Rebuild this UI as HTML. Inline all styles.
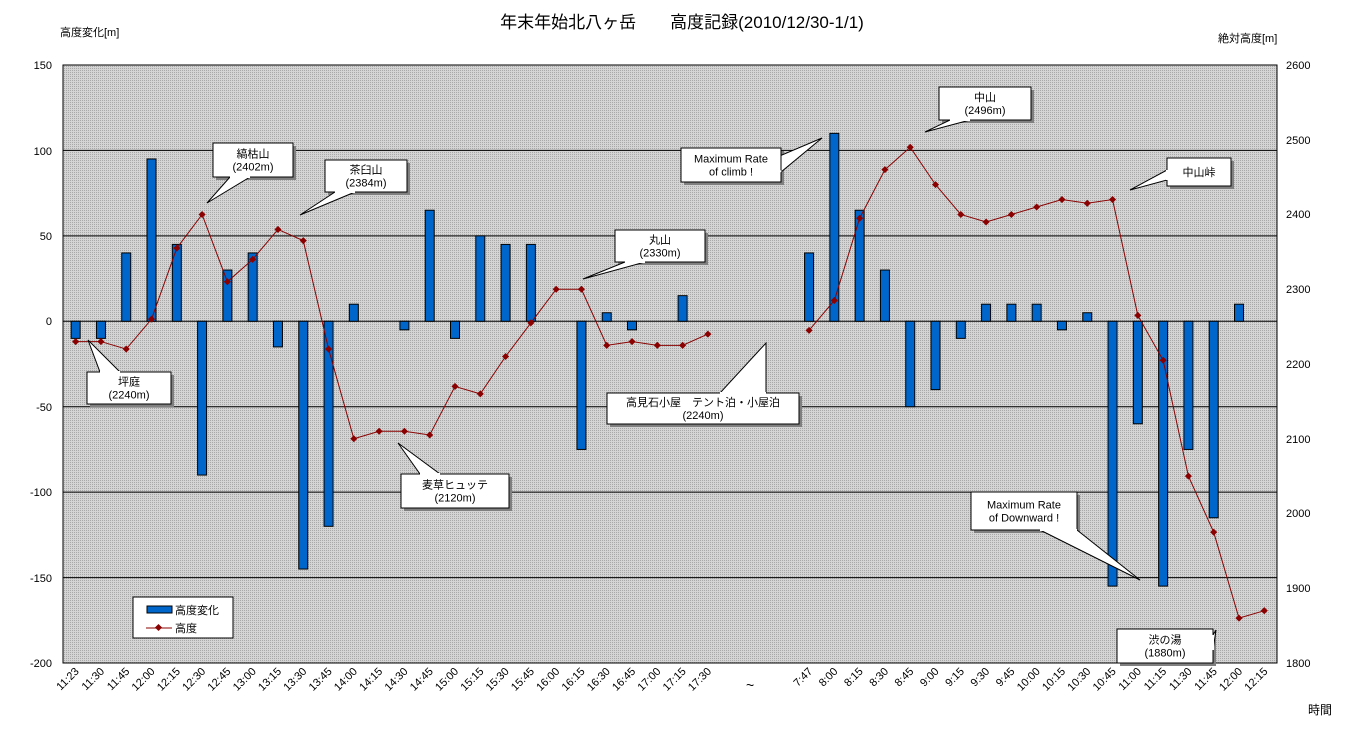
<!DOCTYPE html>
<html><head><meta charset="utf-8"><style>
body{margin:0;background:#fff;}
svg text{font-family:"Liberation Sans","Noto Sans CJK JP",sans-serif;fill:#000;}
</style></head><body>
<svg id="s" width="1364" height="734" xmlns="http://www.w3.org/2000/svg">
<defs>
<pattern id="dots" width="2" height="2" patternUnits="userSpaceOnUse">
<rect width="2" height="2" fill="#d4d4d4"/><rect width="1" height="1" fill="#a8a8a8"/>
</pattern>
</defs>
<rect x="63" y="65" width="1214" height="598" fill="url(#dots)" stroke="#000" stroke-width="1"/>
<g id="grid"></g>
<g id="bars"></g>
<g id="line"></g>
<text x="682" y="28" font-size="17" text-anchor="middle">年末年始北八ヶ岳　　高度記録(2010/12/30-1/1)</text>
<text x="60" y="36" font-size="11">高度変化[m]</text>
<text x="1218" y="42" font-size="11">絶対高度[m]</text>
<text x="1308" y="714" font-size="12">時間</text>
<g font-size="11" text-anchor="end">
<text x="52" y="69">150</text><text x="52" y="155">100</text><text x="52" y="240">50</text><text x="52" y="325">0</text>
<text x="52" y="411">-50</text><text x="52" y="496">-100</text><text x="52" y="582">-150</text><text x="52" y="667">-200</text>
</g>
<g font-size="11">
<text x="1286" y="69">2600</text><text x="1286" y="144">2500</text><text x="1286" y="218">2400</text><text x="1286" y="293">2300</text>
<text x="1286" y="368">2200</text><text x="1286" y="443">2100</text><text x="1286" y="517">2000</text><text x="1286" y="592">1900</text><text x="1286" y="667">1800</text>
</g>
<g id="xl" font-size="11" text-anchor="end">
<text x="0" y="0" data-i="0">11:23</text><text data-i="1">11:30</text><text data-i="2">11:45</text><text data-i="3">12:00</text><text data-i="4">12:15</text><text data-i="5">12:30</text><text data-i="6">12:45</text><text data-i="7">13:00</text><text data-i="8">13:15</text><text data-i="9">13:30</text><text data-i="10">13:45</text><text data-i="11">14:00</text><text data-i="12">14:15</text><text data-i="13">14:30</text><text data-i="14">14:45</text><text data-i="15">15:00</text><text data-i="16">15:15</text><text data-i="17">15:30</text><text data-i="18">15:45</text><text data-i="19">16:00</text><text data-i="20">16:15</text><text data-i="21">16:30</text><text data-i="22">16:45</text><text data-i="23">17:00</text><text data-i="24">17:15</text><text data-i="25">17:30</text><text data-i="29">7:47</text><text data-i="30">8:00</text><text data-i="31">8:15</text><text data-i="32">8:30</text><text data-i="33">8:45</text><text data-i="34">9:00</text><text data-i="35">9:15</text><text data-i="36">9:30</text><text data-i="37">9:45</text><text data-i="38">10:00</text><text data-i="39">10:15</text><text data-i="40">10:30</text><text data-i="41">10:45</text><text data-i="42">11:00</text><text data-i="43">11:15</text><text data-i="44">11:30</text><text data-i="45">11:45</text><text data-i="46">12:00</text><text data-i="47">12:15</text>
</g>
<text x="746" y="690" font-size="14">~</text>
<!-- legend -->
<rect x="133" y="597" width="100" height="41" fill="#fff" stroke="#000"/>
<rect x="147" y="606" width="25" height="7" fill="#0066cc" stroke="#000"/>
<text x="175" y="614" font-size="11">高度変化</text>
<line x1="146" y1="628" x2="172" y2="628" stroke="#8b0000"/>
<rect x="156" y="625" width="5" height="5" fill="#8b0000" transform="rotate(45 158.5 627.5)"/>
<text x="175" y="632" font-size="11">高度</text>
<g id="callouts" font-size="11" text-anchor="middle"></g>
</svg>
<script>
const s='http://www.w3.org/2000/svg';
function el(t,a,p){const e=document.createElementNS(s,t);for(const k in a)e.setAttribute(k,a[k]);p.appendChild(e);return e;}
const cx=i=>63+25.29*(i+0.5);
const yl=v=>65+(150-v)*598/350;
const yr=v=>65+(2600-v)*0.7475;
const g=document.getElementById('grid');
for(let k=1;k<7;k++){const y=65+k*598/7;el('line',{x1:63,x2:1277,y1:y,y2:y,stroke:'#000','stroke-width':1},g);}
const bars={0:-10,1:-10,2:40,3:95,4:45,5:-90,6:30,7:40,8:-15,9:-145,10:-120,11:10,13:-5,14:65,15:-10,16:50,17:45,18:45,20:-75,21:5,22:-5,24:15,29:40,30:110,31:65,32:30,33:-50,34:-40,35:-10,36:10,37:10,38:10,39:-5,40:5,41:-155,42:-60,43:-155,44:-75,45:-115,46:10};
const b=document.getElementById('bars');
for(const i in bars){const v=bars[i];const y0=yl(0),y1=yl(v);el('rect',{x:cx(+i)-4.5,y:Math.min(y0,y1),width:9,height:Math.abs(y1-y0),fill:'#0066cc',stroke:'#000','stroke-width':1},b);}
const alt=[[0,2230],[1,2230],[2,2220],[3,2260],[4,2355],[5,2400],[6,2310],[7,2340],[8,2380],[9,2365],[10,2220],[11,2100],[12,2110],[13,2110],[14,2105],[15,2170],[16,2160],[17,2210],[18,2255],[19,2300],[20,2300],[21,2225],[22,2230],[23,2225],[24,2225],[25,2240]];
const alt2=[[29,2245],[30,2285],[31,2395],[32,2460],[33,2490],[34,2440],[35,2400],[36,2390],[37,2400],[38,2410],[39,2420],[40,2415],[41,2420],[42,2265],[43,2205],[44,2050],[45,1975],[46,1860],[47,1870]];
const L=document.getElementById('line');
for(const a of [alt,alt2]){el('polyline',{points:a.map(p=>cx(p[0])+','+yr(p[1])).join(' '),fill:'none',stroke:'#8b0000','stroke-width':1},L);
for(const p of a){const x=cx(p[0]),y=yr(p[1]);el('rect',{x:x-2.5,y:y-2.5,width:5,height:5,fill:'#8b0000',transform:`rotate(45 ${x} ${y})`},L);}}
document.querySelectorAll('#xl text').forEach(t=>{const i=+t.dataset.i;const x=cx(i)+4,y=672;t.setAttribute('x',x);t.setAttribute('y',y);t.setAttribute('transform',`rotate(-45 ${x} ${y})`);});
const C=document.getElementById('callouts');
const co=[
[87,372,84,32,['坪庭','(2240m)'],[[100,372],[120,372],[88,340]]],
[213,143,80,34,['縞枯山','(2402m)'],[[230,177],[250,177],[207,203]]],
[325,160,82,32,['茶臼山','(2384m)'],[[335,192],[355,192],[300,215]]],
[615,230,90,32,['丸山','(2330m)'],[[625,262],[645,262],[583,279]]],
[681,148,100,34,['Maximum Rate','of climb !'],[[770,160],[781,172],[822,138]]],
[939,87,92,33,['中山','(2496m)'],[[950,120],[970,120],[925,132]]],
[1167,158,64,28,['中山峠'],[[1167,170],[1167,180],[1130,190]]],
[607,393,192,31,['高見石小屋　テント泊・小屋泊','(2240m)'],[[720,393],[766,393],[766,343]]],
[401,474,108,34,['麦草ヒュッテ','(2120m)'],[[420,474],[440,474],[398,443]]],
[971,492,106,38,['Maximum Rate','of Downward !'],[[1040,530],[1077,530],[1140,580]]],
[1117,629,96,34,['渋の湯','(1880m)'],[[1213,635],[1213,650],[1216,630]]]];
for(const [x,y,w,h,t,tri] of co){
el('rect',{x:x+3,y:y+3,width:w,height:h,fill:'#808080'},C);
el('polygon',{points:tri.map(p=>p.join(',')).join(' '),fill:'#fff',stroke:'#000'},C);
el('rect',{x:x,y:y,width:w,height:h,fill:'#fff',stroke:'#000'},C);
el('polygon',{points:tri.slice(0,2).map(p=>p.join(',')).join(' '),fill:'none',stroke:'#fff','stroke-width':2},C);
const n=t.length;t.forEach((s2,k)=>{const e=el('text',{x:x+w/2,y:y+h/2+4+(k-(n-1)/2)*13},C);e.textContent=s2;});
}
</script>
</body></html>
